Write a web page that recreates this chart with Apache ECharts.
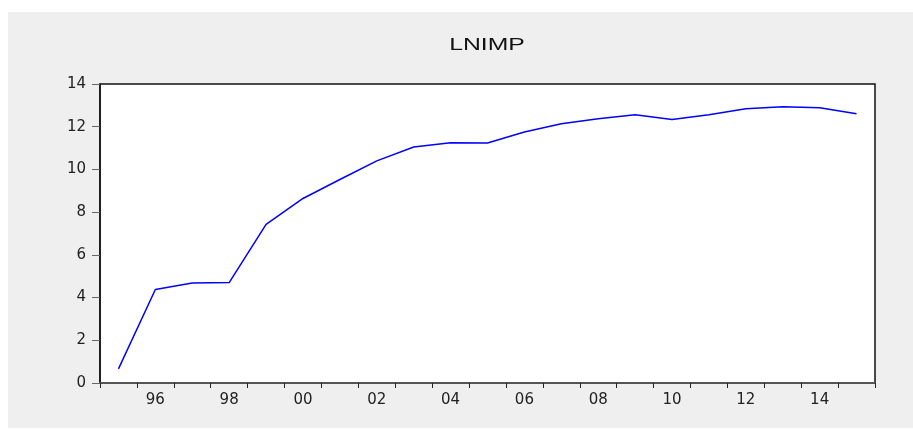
<!DOCTYPE html>
<html>
<head>
<meta charset="utf-8">
<script src="https://cdn.jsdelivr.net/npm/echarts@6/dist/echarts.min.js"></script>
<style>
html,body{margin:0;padding:0;background:#ffffff;}
#chart{width:913px;height:430px;}
</style>
</head>
<body>
<div id="chart"></div>
<script>
var titleText = 'LNIMP';
var years = ['1995','1996','1997','1998','1999','2000','2001','2002','2003','2004','2005',
             '2006','2007','2008','2009','2010','2011','2012','2013','2014','2015'];
var lnimp = [0.66, 4.38, 4.68, 4.70, 7.43, 8.64, 9.53, 10.40, 11.05, 11.25, 11.24,
             11.75, 12.14, 12.37, 12.56, 12.34, 12.56, 12.84, 12.94, 12.89, 12.61];
var yMin = 0, yMax = 14, yStep = 2;

var chart = echarts.init(document.getElementById('chart'), null, {renderer: 'canvas'});
chart.setOption({
  backgroundColor: '#ffffff',
  animation: false,
  graphic: [{
    type: 'rect', z: -10, silent: true,
    shape: {x: 8, y: 12, width: 905, height: 416},
    style: {fill: '#efefef'}
  }, {
    type: 'text', silent: true,
    x: 487, y: 45, scaleX: 1.5, scaleY: 1,
    style: {
      text: titleText, align: 'center', verticalAlign: 'middle',
      fontFamily: 'Liberation Sans', fontSize: 16.5, fill: '#111'
    }
  }],
  grid: {
    left: 100, right: 38, top: 84, bottom: 47,
    show: true, backgroundColor: '#ffffff', borderColor: '#111', borderWidth: 1.5
  },
  xAxis: {
    type: 'category',
    data: years,
    boundaryGap: true,
    axisLine: {show: true, lineStyle: {color: '#555', width: 2}},
    axisTick: {show: true, interval: 0, length: 5, inside: false, lineStyle: {color: '#222', width: 1}},
    axisLabel: {
      interval: function (i) { return i % 2 === 1; },
      formatter: function (v) { return v.slice(2); },
      margin: 10,
      fontFamily: 'DejaVu Sans', fontSize: 15, color: '#222'
    },
    splitLine: {show: false}
  },
  yAxis: {
    type: 'value',
    min: yMin, max: yMax, interval: yStep,
    axisLine: {show: true, lineStyle: {color: '#111', width: 1.5}},
    axisTick: {show: true, length: 8, lineStyle: {color: '#666', width: 1}},
    axisLabel: {margin: 14, fontFamily: 'DejaVu Sans', fontSize: 15, color: '#222'},
    splitLine: {show: false}
  },
  series: [{
    type: 'line',
    data: lnimp,
    symbol: 'none',
    lineStyle: {color: '#0000ff', width: 1.5},
    z: 5
  }]
});
</script>
</body>
</html>
